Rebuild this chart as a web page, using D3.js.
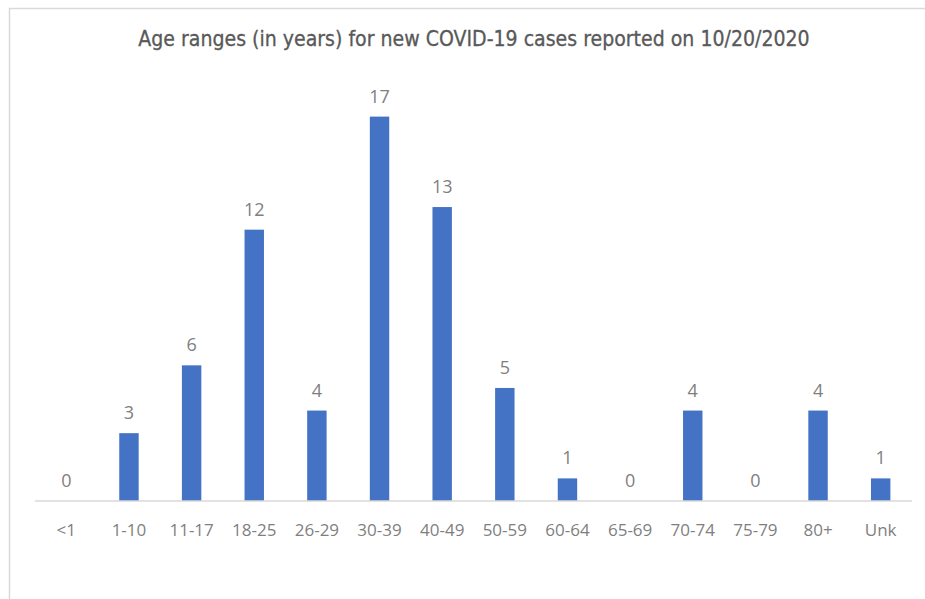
<!DOCTYPE html>
<html>
<head>
<meta charset="utf-8">
<script src="https://cdn.jsdelivr.net/npm/d3@7"></script>
<style>
  body { margin: 0; background: #fff; }
  svg { display: block; }
</style>
</head>
<body>
<svg id="chart"></svg>
<script>
// age ranges and number of new cases
const ageRanges = ["<1", "1-10", "11-17", "18-25", "26-29", "30-39", "40-49", "50-59", "60-64", "65-69", "70-74", "75-79", "80+", "Unk"];
const cases = [0, 3, 6, 12, 4, 17, 13, 5, 1, 0, 4, 0, 4, 1];
const titleText = "Age ranges (in years) for new COVID-19 cases reported on 10/20/2020";

const W = 925, H = 599;
const margin = {top: 94, right: 13, bottom: 98, left: 35};

const svg = d3.select("#chart")
  .attr("width", W)
  .attr("height", H);

// chart frame (runs off the right and bottom edge)
svg.append("rect")
  .attr("x", 9.5).attr("y", 8.5)
  .attr("width", W + 20).attr("height", H + 20)
  .attr("fill", "none")
  .attr("stroke", "#d9d9d9")
  .attr("stroke-width", 1.5);

const title = svg.append("text")
  .attr("x", 474).attr("y", 46)
  .attr("text-anchor", "middle")
  .attr("fill", "#595959")
  .attr("stroke", "#595959")
  .attr("stroke-width", 0.3)
  .style("font-family", "'Liberation Sans Narrow', 'DejaVu Sans Condensed', sans-serif")
  .style("font-size", "20px")
  .text(titleText);
// fit the title to the width it has in the picture
const tw = title.node().getComputedTextLength();
title.style("font-size", (20 * 672 / tw) + "px");

const x = d3.scaleBand()
  .domain(ageRanges)
  .range([margin.left, W - margin.right])
  .paddingInner(0.69)
  .paddingOuter(0.345);

const y = d3.scaleLinear()
  .domain([0, 18])
  .range([H - margin.bottom, margin.top]);

const g = svg.append("g");

g.selectAll("rect.bar")
  .data(cases)
  .enter().append("rect")
  .attr("class", "bar")
  .attr("x", (d, i) => x(ageRanges[i]))
  .attr("y", d => y(d))
  .attr("width", x.bandwidth())
  .attr("height", d => y(0) - y(d))
  .attr("fill", "#4472c4");

g.selectAll("text.val")
  .data(cases)
  .enter().append("text")
  .attr("class", "val")
  .attr("x", (d, i) => x(ageRanges[i]) + x.bandwidth() / 2)
  .attr("y", d => y(d) - 14)
  .attr("text-anchor", "middle")
  .attr("fill", "#7f7f7f")
  .style("font-family", "'Open Sans', 'Noto Sans', sans-serif")
  .style("font-size", "18px")
  .text(d => d);

// x axis
const xAxis = svg.append("g")
  .attr("transform", `translate(0,${y(0)})`)
  .call(d3.axisBottom(x).tickSize(0).tickPadding(23).tickSizeOuter(0));

xAxis.select(".domain")
  .attr("stroke", "#d9d9d9")
  .attr("stroke-width", 1.5)
  .attr("d", `M${margin.left},0H${W - margin.right}`);

xAxis.selectAll("text")
  .attr("fill", "#7f7f7f")
  .style("font-family", "'Open Sans', 'Noto Sans', sans-serif")
  .style("font-size", "17px");
</script>
</body>
</html>
